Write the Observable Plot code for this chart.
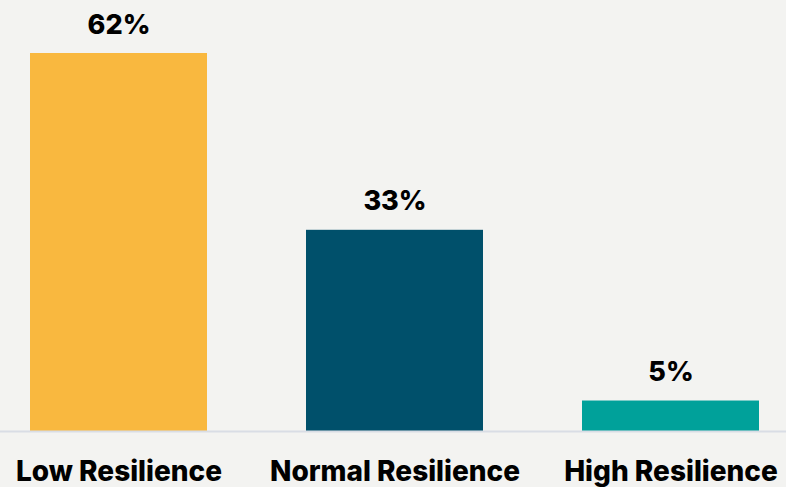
<!DOCTYPE html>
<html>
<head>
<meta charset="utf-8">
<script src="https://cdn.jsdelivr.net/npm/d3@7"></script>
<script src="https://cdn.jsdelivr.net/npm/@observablehq/plot@0.6"></script>
<style>
  html, body { margin: 0; padding: 0; background: #f3f3f1; }
  #chart svg { display: block; }
</style>
</head>
<body>
<div id="chart"></div>
<script>
const categories = ["Low Resilience", "Normal Resilience", "High Resilience"];
const values = [62, 33, 5];
const labels = ["62%", "33%", "5%"];
const colors = ["#F9B83F", "#00506B", "#00A19A"];

const data = categories.map((c, i) => ({category: c, value: values[i], label: labels[i]}));

const chart = Plot.plot({
  width: 786,
  height: 487,
  marginLeft: 0,
  marginRight: 0,
  marginTop: 0,
  marginBottom: 56,
  style: {background: "transparent", fontFamily: "Inter, 'Noto Sans', sans-serif"},
  x: {domain: categories, range: [29, 761], paddingInner: 0.357, paddingOuter: 0, label: null},
  y: {domain: [0, 62], range: [431, 53], axis: null},
  color: {domain: categories, range: colors},
  marks: [
    Plot.barY(data, {x: "category", y: "value", fill: "category"}),
    Plot.ruleY([0], {stroke: "#d9dde5", strokeWidth: 2}),
    Plot.text(data, {x: "category", y: "value", text: "label", lineAnchor: "bottom", dy: -20,
      fontSize: 27, fontWeight: 800, fill: "#000"}),
    Plot.axisX({tickSize: 0, tickPadding: 30, fontSize: 28, fontWeight: 800, color: "#000", label: null,
      style: {letterSpacing: "-0.6px"}})
  ]
});
document.getElementById("chart").appendChild(chart);
</script>
</body>
</html>
